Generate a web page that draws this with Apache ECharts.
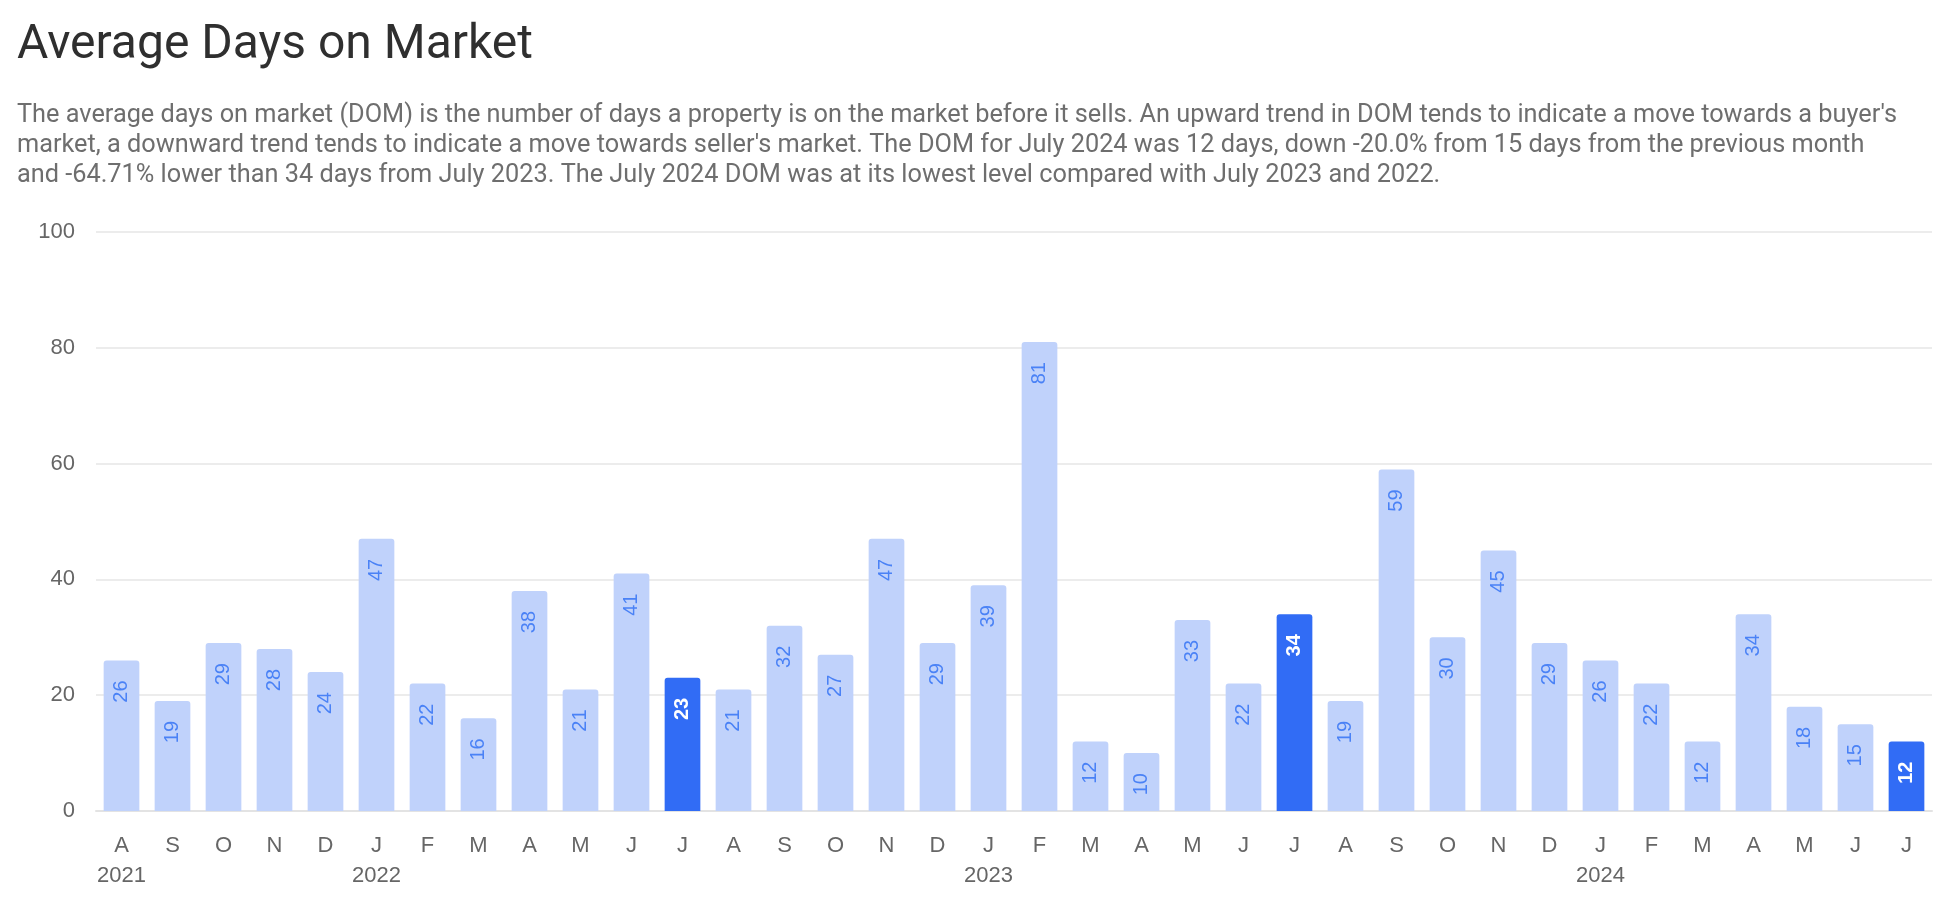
<!DOCTYPE html>
<html>
<head>
<meta charset="utf-8">
<script src="https://cdn.jsdelivr.net/npm/echarts@6/dist/echarts.min.js"></script>
<style>
html,body{margin:0;padding:0;background:#fff;}
#chart{width:1948px;height:916px;}
</style>
</head>
<body>
<div id="chart"></div>
<script>
const titleText = "Average Days on Market";
const subtitleLines = [
  "The average days on market (DOM) is the number of days a property is on the market before it sells. An upward trend in DOM tends to indicate a move towards a buyer's",
  "market, a downward trend tends to indicate a move towards seller's market. The DOM for July 2024 was 12 days, down -20.0% from 15 days from the previous month",
  "and -64.71% lower than 34 days from July 2023. The July 2024 DOM was at its lowest level compared with July 2023 and 2022."
];
const months = ["A","S","O","N","D","J","F","M","A","M","J","J","A","S","O","N","D","J","F","M","A","M","J","J","A","S","O","N","D","J","F","M","A","M","J","J"];
const years  = ["2021","","","","","2022","","","","","","","","","","","","2023","","","","","","","","","","","","2024","","","","","",""];
const domValues = [26,19,29,28,24,47,22,16,38,21,41,23,21,32,27,47,29,39,81,12,10,33,22,34,19,59,30,45,29,26,22,12,34,18,15,12];
const highlightIdx = [11,23,35];
const yTicks = {min:0, max:100, interval:20};

const LIGHT = '#c0d2fb', DARK = '#316cf5', LABEL_LIGHT = '#4a82f6';

const seriesData = domValues.map((v,i)=>{
  const hl = highlightIdx.includes(i);
  return {
    value: v,
    itemStyle: {color: hl ? DARK : LIGHT},
    label: {color: hl ? '#ffffff' : LABEL_LIGHT, fontWeight: hl ? 'bold' : 'normal'}
  };
});

const chart = echarts.init(document.getElementById('chart'), null, {renderer:'canvas'});
chart.setOption({
  animation:false,
  backgroundColor:'#ffffff',
  title:{
    text: titleText,
    subtext: subtitleLines.join('\n'),
    left: 12, top: 17,
    itemGap: 31,
    textStyle:{fontFamily:'Roboto', fontSize:48, fontWeight:'normal', color:'#2f2f2f'},
    subtextStyle:{fontFamily:'Roboto', fontSize:25.3, color:'#6e6e6e', lineHeight:30}
  },
  grid:{left:96, right:16, top:232, bottom:105, containLabel:false},
  xAxis:{
    type:'category',
    data: months,
    axisTick:{show:false},
    axisLine:{lineStyle:{color:'#e3e3e3', width:2}},
    axisLabel:{
      interval:0, margin:20,
      fontFamily:'Liberation Sans', fontSize:22, color:'#666666', lineHeight:30,
      formatter:(val, idx)=> years[idx] ? val + '\n' + years[idx] : val
    }
  },
  yAxis:{
    type:'value', min:yTicks.min, max:yTicks.max, interval:yTicks.interval,
    axisLine:{show:false}, axisTick:{show:false},
    splitLine:{lineStyle:{color:'#e6e6e6', width:1.5}},
    axisLabel:{fontFamily:'Liberation Sans', fontSize:22, color:'#666666', margin:21}
  },
  series:[{
    type:'bar',
    data: seriesData,
    barCategoryGap:'30%',
    itemStyle:{borderRadius:[3,3,0,0]},
    label:{
      show:true,
      position:'insideTop',
      distance:20,
      rotate:90,
      align:'right',
      verticalAlign:'middle',
      fontFamily:'Liberation Sans',
      fontSize:20
    }
  }]
});
</script>
</body>
</html>
